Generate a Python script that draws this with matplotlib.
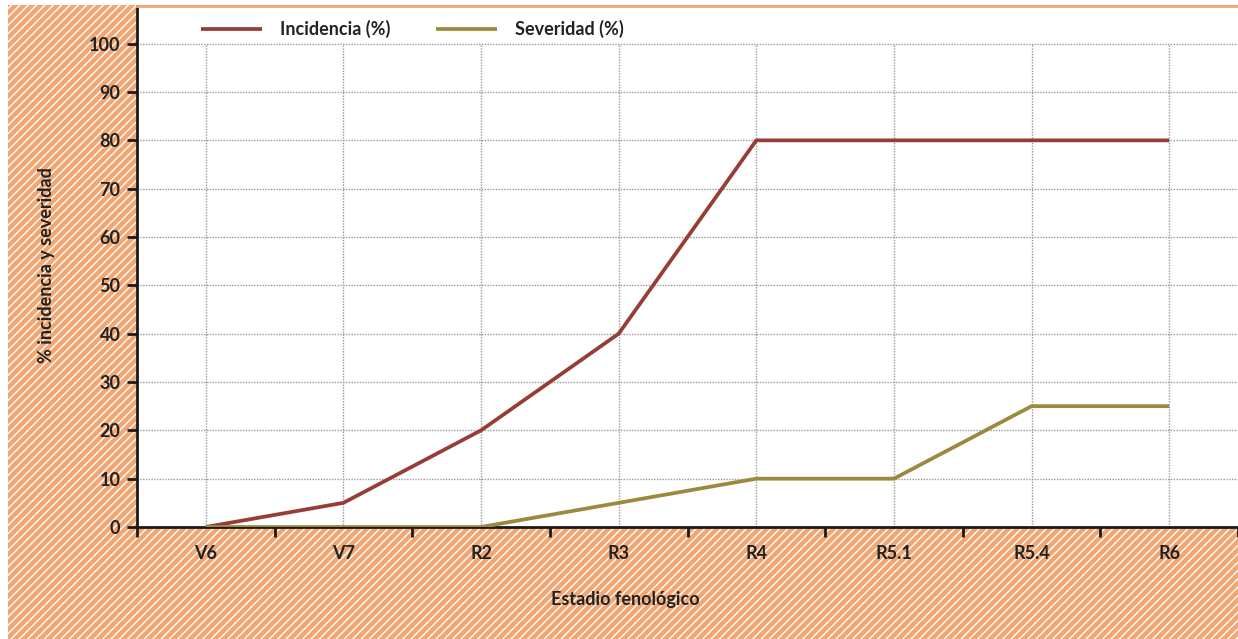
import matplotlib
matplotlib.use('Agg')
import matplotlib.pyplot as plt
from matplotlib.patches import Rectangle

# data
estadios = ['V6', 'V7', 'R2', 'R3', 'R4', 'R5.1', 'R5.4', 'R6']
incidencia = [0, 5, 20, 40, 80, 80, 80, 80]
severidad = [0, 0, 0, 5, 10, 10, 25, 25]
y_ticks = [0, 10, 20, 30, 40, 50, 60, 70, 80, 90, 100]

W, H = 1238, 639
FS = 13
plt.rcParams['font.family'] = ['Lato', 'DejaVu Sans']
plt.rcParams['font.weight'] = 'bold'
plt.rcParams['hatch.linewidth'] = 1.0

fig = plt.figure(figsize=(W / 100, H / 100), dpi=100)
fig.patch.set_facecolor('white')

# hatched orange frame behind everything
bg = Rectangle((8 / W, 0), 1 - 8 / W, (H - 5) / H, transform=fig.transFigure,
               facecolor='#F2A672', edgecolor='white', hatch='////', linewidth=0,
               zorder=0)
fig.patches.append(bg)

left, right = 137 / W, 1.0
bottom, top = (H - 527) / H, (H - 5.5) / H
ax = fig.add_axes([left, bottom, right - left, top - bottom])
ax.set_facecolor('white')
ax.set_zorder(1)

x = list(range(len(estadios)))
ax.plot(x, incidencia, color='#983D35', lw=2.7, solid_capstyle='butt', zorder=3,
        label='Incidencia (%)')
ax.plot(x, severidad, color='#9C8940', lw=2.7, solid_capstyle='butt', zorder=4,
        label='Severidad (%)')

ax.set_xlim(-0.5, len(estadios) - 0.5)
ax.set_ylim(0, 107.9)

# grid: horizontal across the whole area, vertical only up to 100
for yv in y_ticks[1:]:
    ax.axhline(yv, color='#999999', lw=1, ls=(0, (1, 1)), zorder=1)
ax.vlines(x, 0, 100, color='#999999', lw=1, linestyles=(0, (1, 1)), zorder=1)

ax.set_yticks(y_ticks)
ax.set_yticklabels([str(v) for v in y_ticks], fontsize=FS, fontweight='bold',
                   color='#222222')
ax.set_xticks(x)
ax.set_xticklabels(estadios, fontsize=FS, fontweight='bold', color='#222222')
ax.tick_params(axis='x', length=0, pad=13)
ax.set_xticks([i - 0.5 for i in x] + [len(estadios) - 0.5], minor=True)
ax.tick_params(axis='x', which='minor', length=7, width=2, color='#1a1a1a')
ax.tick_params(axis='y', length=7, width=2, color='#1a1a1a', pad=5)

for s in ['left', 'bottom']:
    ax.spines[s].set_linewidth(2)
    ax.spines[s].set_color('#1a1a1a')
ax.spines['right'].set_visible(False)
ax.spines['top'].set_color('#F2A672')
ax.spines['top'].set_linewidth(2)

leg = ax.legend(loc='upper left', bbox_to_anchor=(0.043, 1.003), ncol=2,
                frameon=False, fontsize=FS, handlelength=3.4,
                handletextpad=1.0, columnspacing=2.5)
for t in leg.get_texts():
    t.set_fontweight('bold')
    t.set_color('#222222')

fig.text(47 / W, 1 - 265 / H, '% incidencia y severidad', rotation=90,
         ha='center', va='center', fontsize=FS, fontweight='bold',
         color='#222222')
fig.text(625 / W, 1 - 599 / H, 'Estadio fenológico', ha='center', va='center',
         fontsize=FS, fontweight='bold', color='#222222')

fig.savefig('out.png', dpi=100)
